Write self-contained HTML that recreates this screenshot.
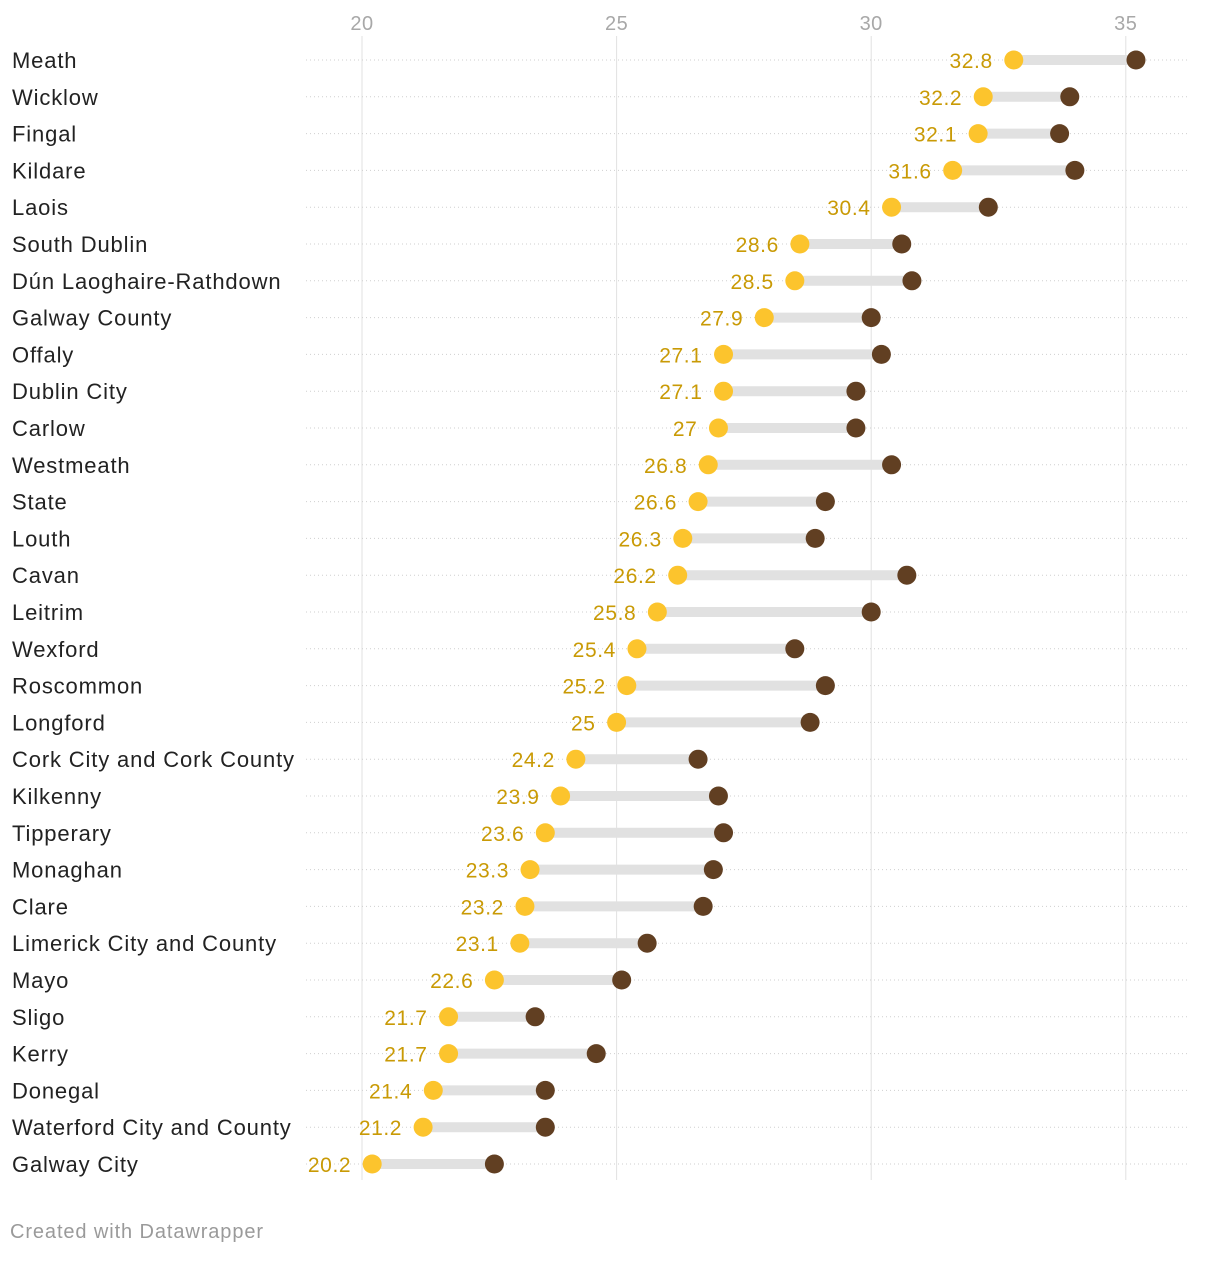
<!DOCTYPE html>
<html><head><meta charset="utf-8"><style>
body{margin:0;background:#fff;font-family:"Liberation Sans",Roboto,sans-serif;}
svg text{font-family:"Liberation Sans",sans-serif;}
</style></head><body>
<svg id="chart" width="1220" height="1256" xmlns="http://www.w3.org/2000/svg">
<g id="grid"></g>
<g id="rows"></g>
<text x="10" y="1238" font-size="20" fill="#9a9a9a" letter-spacing="0.9">Created with Datawrapper</text>
</svg>
<script>
const categories=["Meath","Wicklow","Fingal","Kildare","Laois","South Dublin","Dún Laoghaire-Rathdown","Galway County","Offaly","Dublin City","Carlow","Westmeath","State","Louth","Cavan","Leitrim","Wexford","Roscommon","Longford","Cork City and Cork County","Kilkenny","Tipperary","Monaghan","Clare","Limerick City and County","Mayo","Sligo","Kerry","Donegal","Waterford City and County","Galway City"];
const lowValues=[32.8,32.2,32.1,31.6,30.4,28.6,28.5,27.9,27.1,27.1,27,26.8,26.6,26.3,26.2,25.8,25.4,25.2,25,24.2,23.9,23.6,23.3,23.2,23.1,22.6,21.7,21.7,21.4,21.2,20.2];
const highValues=[35.2,33.9,33.7,34.0,32.3,30.6,30.8,30.0,30.2,29.7,29.7,30.4,29.1,28.9,30.7,30.0,28.5,29.1,28.8,26.6,27.0,27.1,26.9,26.7,25.6,25.1,23.4,24.6,23.6,23.6,22.6];
const tickValues=[20,25,30,35];
const NS="http://www.w3.org/2000/svg";
const x=v=>362+(v-20)*50.92;
const y=i=>60+i*36.8;
function mk(tag,attrs,parent){const e=document.createElementNS(NS,tag);for(const k in attrs)e.setAttribute(k,attrs[k]);parent.appendChild(e);return e;}
const grid=document.getElementById('grid'),rows=document.getElementById('rows');
tickValues.forEach(t=>{
 const l=mk('line',{x1:x(t),x2:x(t),y1:36,y2:1180,stroke:'#e2e2e2','stroke-width':1},grid);
 
 
 const tx=mk('text',{x:x(t),y:30,'font-size':20,fill:'#a8a8a8','text-anchor':'middle','letter-spacing':0.5},grid);
 tx.textContent=t;
 
 
});
categories.forEach((c,i)=>{
 const yy=y(i);
 const g=mk('g',{},rows);
 
 
 mk('line',{x1:306,x2:1188,y1:yy,y2:yy,stroke:'#cfcfcf','stroke-width':1,'stroke-dasharray':'1,3'},g);
 const lab=mk('text',{x:12,y:yy+8,'font-size':22,fill:'#222','letter-spacing':0.85},g);
 lab.textContent=c;
 
 
 const r=mk('line',{x1:x(lowValues[i]),x2:x(highValues[i]),y1:yy,y2:yy,stroke:'#e1e1e1','stroke-width':10},g);
 
 
 const d2=mk('circle',{cx:x(highValues[i]),cy:yy,r:9.5,fill:'#613f22'},g);
 
 
 const d1=mk('circle',{cx:x(lowValues[i]),cy:yy,r:9.5,fill:'#fcc42d'},g);
 
 
 const v=mk('text',{x:x(lowValues[i])-21,y:yy+8,'font-size':21,fill:'#c99a05','text-anchor':'end','letter-spacing':0.6},g);
 v.textContent=lowValues[i];
 
 
});
</script>
</body></html>
